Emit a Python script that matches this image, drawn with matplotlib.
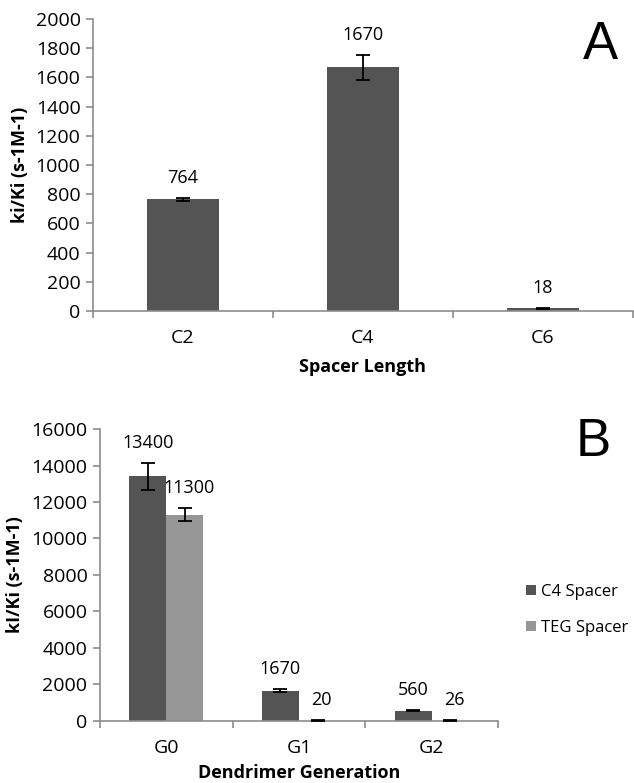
import matplotlib
matplotlib.use("Agg")
import matplotlib.pyplot as plt
import numpy as np

plt.rcParams['font.family'] = ['Open Sans', 'DejaVu Sans']

# Panel A data
spacers = ["C2", "C4", "C6"]
spacer_vals = [764, 1670, 18]
spacer_err = [10, 85, 5]

# Panel B data
generations = ["G0", "G1", "G2"]
c4_vals = [13400, 1670, 560]
c4_err = [740, 60, 20]
teg_vals = [11300, 20, 26]
teg_err = [360, 10, 10]

dark = "#545454"
light = "#969696"
axis_col = "#8c8c8c"

fig = plt.figure(figsize=(6.34, 7.83), dpi=100)


def style_axes(ax, n):
    for s in ["top", "right"]:
        ax.spines[s].set_visible(False)
    for s in ["left", "bottom"]:
        ax.spines[s].set_color(axis_col)
        ax.spines[s].set_linewidth(1.2)
    ax.set_xlim(-0.5, n - 0.5)
    ax.set_xticks(np.arange(n))
    ax.set_xticks(np.arange(n + 1) - 0.5, minor=True)
    ax.tick_params(axis="x", which="major", length=0, pad=13, labelsize=14)
    ax.tick_params(axis="x", which="minor", length=5, color=axis_col, width=1.2)
    ax.tick_params(axis="y", length=5, color=axis_col, width=1.2, labelsize=14, pad=4)


# ---- Panel A ----
axA = fig.add_axes([0.1467, 0.6028, 0.851, 0.3729])
x = np.arange(len(spacers))
axA.bar(x, spacer_vals, width=0.4, color=dark, zorder=2)
axA.errorbar(x, spacer_vals, yerr=spacer_err, fmt="none", ecolor="black",
             elinewidth=1.3, capsize=5, capthick=1.3, zorder=3)
for xi, v, e in zip(x, spacer_vals, spacer_err):
    axA.annotate(str(v), (xi, v + e), xytext=(0, 8), textcoords="offset points",
                 ha="center", va="bottom", fontsize=13)
axA.set_ylim(0, 2000)
axA.set_yticks(np.arange(0, 2001, 200))
axA.set_xticklabels(spacers)
style_axes(axA, len(spacers))
axA.set_xlabel("Spacer Length", fontsize=13, fontweight="bold", labelpad=8)
axA.set_ylabel("ki/Ki (s-1M-1)", fontsize=13, fontweight="bold", labelpad=5)
fig.text(0.947, 0.942, "A", fontsize=38, family="Liberation Sans", ha="center", va="center")

# ---- Panel B ----
axB = fig.add_axes([0.1577, 0.0792, 0.6278, 0.3729])
xb = np.arange(len(generations))
w = 0.28
axB.bar(xb - w / 2, c4_vals, width=w, color=dark, zorder=2, label="C4 Spacer")
axB.bar(xb + w / 2, teg_vals, width=w, color=light, zorder=2, label="TEG Spacer")
axB.errorbar(xb - w / 2, c4_vals, yerr=c4_err, fmt="none", ecolor="black",
             elinewidth=1.3, capsize=5, capthick=1.3, zorder=3)
axB.errorbar(xb + w / 2, teg_vals, yerr=teg_err, fmt="none", ecolor="black",
             elinewidth=1.3, capsize=5, capthick=1.3, zorder=3)
for xi, v, e in zip(xb - w / 2, c4_vals, c4_err):
    axB.annotate(str(v), (xi, v + e), xytext=(0, 8), textcoords="offset points",
                 ha="center", va="bottom", fontsize=13)
for xi, v, e in zip(xb + w / 2, teg_vals, teg_err):
    axB.annotate(str(v), (xi + 0.03, v + e), xytext=(0, 8), textcoords="offset points",
                 ha="center", va="bottom", fontsize=13)
axB.set_ylim(0, 16000)
axB.set_yticks(np.arange(0, 16001, 2000))
axB.set_xticklabels(generations)
style_axes(axB, len(generations))
axB.set_xlabel("Dendrimer Generation", fontsize=13, fontweight="bold", labelpad=5)
axB.set_ylabel("kI/Ki (s-1M-1)", fontsize=13, fontweight="bold", labelpad=5)
axB.legend(loc="center left", bbox_to_anchor=(1.07, 0.38), frameon=False,
           fontsize=12, handlelength=0.6, handleheight=0.6, handletextpad=0.3,
           labelspacing=1.2, borderpad=0, borderaxespad=0)
fig.text(0.935, 0.435, "B", fontsize=38, family="Liberation Sans", ha="center", va="center")

fig.savefig("out.png", dpi=100)
